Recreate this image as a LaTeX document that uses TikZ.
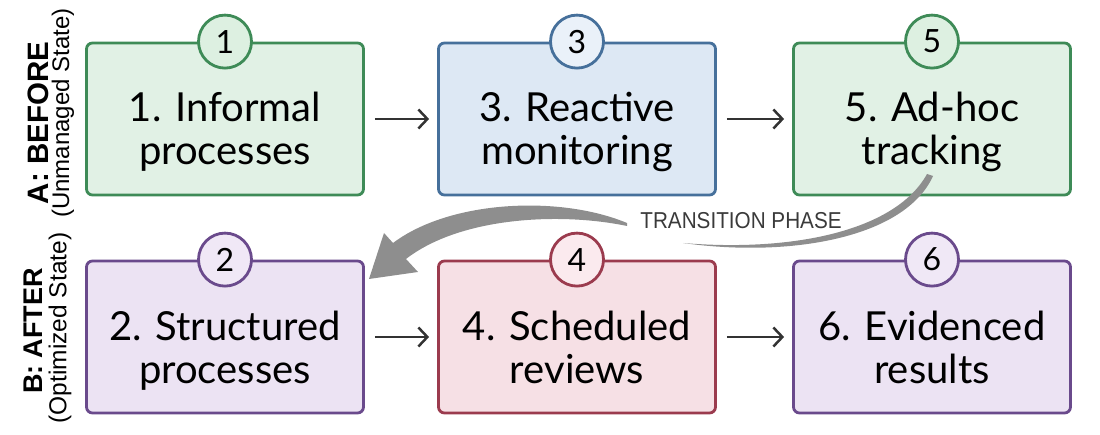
\documentclass[tikz,border=0pt]{standalone}
\usepackage{fontspec}
\usepackage{graphicx}
\setmainfont{Lato}
\newfontfamily\labfont{Liberation Sans}
\usetikzlibrary{arrows.meta}
\definecolor{gB}{HTML}{3E8B57}
\definecolor{gF}{HTML}{E1F1E5}
\definecolor{gC}{HTML}{DDF0E1}
\definecolor{bB}{HTML}{46709B}
\definecolor{bF}{HTML}{DDE8F4}
\definecolor{bC}{HTML}{EAF1F9}
\definecolor{rB}{HTML}{9B3B4E}
\definecolor{rF}{HTML}{F6E0E5}
\definecolor{rC}{HTML}{FBEAEE}
\definecolor{pB}{HTML}{6A4A8C}
\definecolor{pF}{HTML}{ECE3F3}
\definecolor{pC}{HTML}{F0E8F6}
\definecolor{arrG}{HTML}{333333}
\definecolor{trG}{HTML}{8E8E8E}
\definecolor{txG}{HTML}{3A3A3A}
\newcommand{\topstrut}{\rule{0pt}{30pt}}
\newcommand{\botstrut}{\rule[-10pt]{0pt}{10pt}}
\begin{document}
\begin{tikzpicture}[x=1pt,y=-1pt,
  stagebox/.style={draw=#1, rectangle, rounded corners=6pt, line width=2.8pt,
    minimum width=277pt, minimum height=152pt, inner sep=0pt},
  stagetext/.style={align=center, text=black, inner sep=0pt, font=\fontsize{40}{43}\selectfont},
  numcircle/.style={draw=#1, circle, line width=2.8pt, minimum size=53pt,
    inner sep=0pt, text=black, font=\fontsize{32}{32}\selectfont},
  flow/.style={draw=arrG, line width=2.5pt, -{Straight Barb[length=9pt,width=19pt,line width=2.5pt]}},
  rowlab/.style={rotate=90, inner sep=0pt, font=\labfont\bfseries\fontsize{#1}{#1}\selectfont, text=black},
  rowsub/.style={rotate=90, inner sep=0pt, font=\labfont\fontsize{#1}{#1}\selectfont, text=black}
]
\useasboundingbox (0,0) rectangle (1100,435);

% row labels
\node[rowlab=29.5] (la) at (38,123) {A: BEFORE};
\node[rowsub=24] (lsa) at (63,113) {(Unmanaged State)};
\node[rowlab=27] (lb) at (33,331) {B: AFTER};
\node[rowsub=24.5] (lsb) at (60,328) {(Optimized State)};

% boxes
\node[stagebox=gB, fill=gF] (b1) at (225,119) {};
\node[stagebox=bB, fill=bF] (b3) at (577,119) {};
\node[stagebox=gB, fill=gF] (b5) at (932,119) {};
\node[stagebox=pB, fill=pF] (b2) at (225,337) {};
\node[stagebox=rB, fill=rF] (b4) at (577,337) {};
\node[stagebox=pB, fill=pF] (b6) at (932,337) {};

\node[stagetext] (t1) at ([yshift=-14.5pt]b1.center) {\topstrut 1. Informal\\processes\botstrut};
\node[stagetext] (t3) at ([yshift=-14.5pt]b3.center) {\topstrut 3. Reactive\\monitoring\botstrut};
\node[stagetext] (t5) at ([yshift=-14.5pt]b5.center) {\topstrut 5. Ad-hoc\\tracking\botstrut};
\node[stagetext] (t2) at ([yshift=-14.5pt]b2.center) {\topstrut 2. Structured\\processes\botstrut};
\node[stagetext] (t4) at ([yshift=-14.5pt]b4.center) {\topstrut 4. Scheduled\\reviews\botstrut};
\node[stagetext] (t6) at ([yshift=-14.5pt]b6.center) {\topstrut 6. Evidenced\\results\botstrut};

% number circles
\node[numcircle=gB, fill=gC] (c1) at (b1.north) {1};
\node[numcircle=bB, fill=bC] (c3) at (b3.north) {3};
\node[numcircle=gB, fill=gC] (c5) at (b5.north) {5};
\node[numcircle=pB, fill=pC] (c2) at (b2.north) {2};
\node[numcircle=rB, fill=rC] (c4) at (b4.north) {4};
\node[numcircle=pB, fill=pC] (c6) at (b6.north) {6};

% flow arrows
\draw[flow] ([xshift=10pt]b1.east) -- ([xshift=-8pt]b3.west);
\draw[flow] ([xshift=10pt]b3.east) -- ([xshift=-8pt]b5.west);
\draw[flow] ([xshift=10pt]b2.east) -- ([xshift=-8pt]b4.west);
\draw[flow] ([xshift=10pt]b4.east) -- ([xshift=-8pt]b6.west);

% transition phase arrow
\fill[trG] (933,176) .. controls (905,238) and (790,258) .. (683,243)
  .. controls (790,252) and (895,232) .. (927,174) -- cycle;
\fill[trG] (627,223) .. controls (560,195) and (450,200) .. (393,243)
  -- (384,233) -- (369,279) -- (418,272) -- (406,259)
  .. controls (460,217) and (560,212) .. (627,226) -- cycle;
\node[font=\labfont\fontsize{23}{23}\selectfont, text=txG, xscale=0.9, transform shape] (tp) at (741,221) {TRANSITION PHASE};
\end{tikzpicture}
\end{document}
